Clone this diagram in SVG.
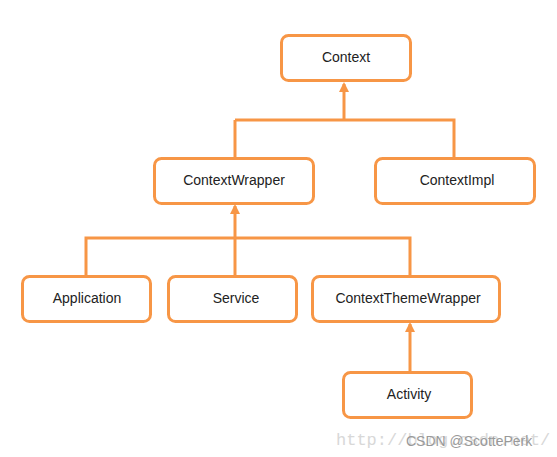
<svg xmlns="http://www.w3.org/2000/svg" width="557" height="457" viewBox="0 0 557 457">
<style>
.box{fill:#fff;stroke:#F79646;stroke-width:3}
.lbl{font-family:"Liberation Sans",Arial,sans-serif;font-size:14px;fill:#222;text-anchor:middle;dominant-baseline:central}
.ln{fill:none;stroke:#F79646;stroke-width:3}
.wm1{font-family:"Liberation Mono",monospace;font-size:17px;fill:#d8d8d8}
.wm2{font-family:"Liberation Sans",Arial,sans-serif;font-size:14px;fill:#999}
</style>
<defs>
<marker id="arr" markerWidth="10" markerHeight="10" refX="8" refY="5" orient="auto" markerUnits="userSpaceOnUse">
<path d="M0,0 L10,5 L0,10 Z" fill="#F79646"/>
</marker>
</defs>
<rect width="557" height="457" fill="#fff"/>
<g id="connectors">
<path class="ln" d="M235,120 H454 V158"/>
<path class="ln" d="M235,158 V120"/>
<path class="ln" d="M344,120 V84" marker-end="url(#arr)"/>
<path class="ln" d="M86,276 V238 H410 V276"/>
<path class="ln" d="M235,276 V238"/>
<path class="ln" d="M235,238 V206" marker-end="url(#arr)"/>
<path class="ln" d="M410,372 V324" marker-end="url(#arr)"/>
</g>
<g id="context"><rect class="box" x="281.5" y="35.5" width="129" height="45" rx="7"/><text class="lbl" x="346" y="57">Context</text></g>
<g id="contextwrapper"><rect class="box" x="154.5" y="158.5" width="159" height="45" rx="7"/><text class="lbl" x="234" y="180">ContextWrapper</text></g>
<g id="contextimpl"><rect class="box" x="375.5" y="158.5" width="159" height="45" rx="7"/><text class="lbl" x="457" y="180">ContextImpl</text></g>
<g id="application"><rect class="box" x="22.5" y="276.5" width="128" height="45" rx="7"/><text class="lbl" x="87" y="298">Application</text></g>
<g id="service"><rect class="box" x="168.5" y="276.5" width="128" height="45" rx="7"/><text class="lbl" x="236" y="298">Service</text></g>
<g id="contextthemewrapper"><rect class="box" x="312.5" y="276.5" width="187" height="45" rx="7"/><text class="lbl" x="408" y="298">ContextThemeWrapper</text></g>
<g id="activity"><rect class="box" x="343.5" y="372.5" width="128" height="45" rx="7"/><text class="lbl" x="409" y="394">Activity</text></g>
<text class="wm1" x="336" y="445">http://blog.csdn.net/</text>
<text class="wm2" x="406" y="446">CSDN @ScottePerk</text>
</svg>
